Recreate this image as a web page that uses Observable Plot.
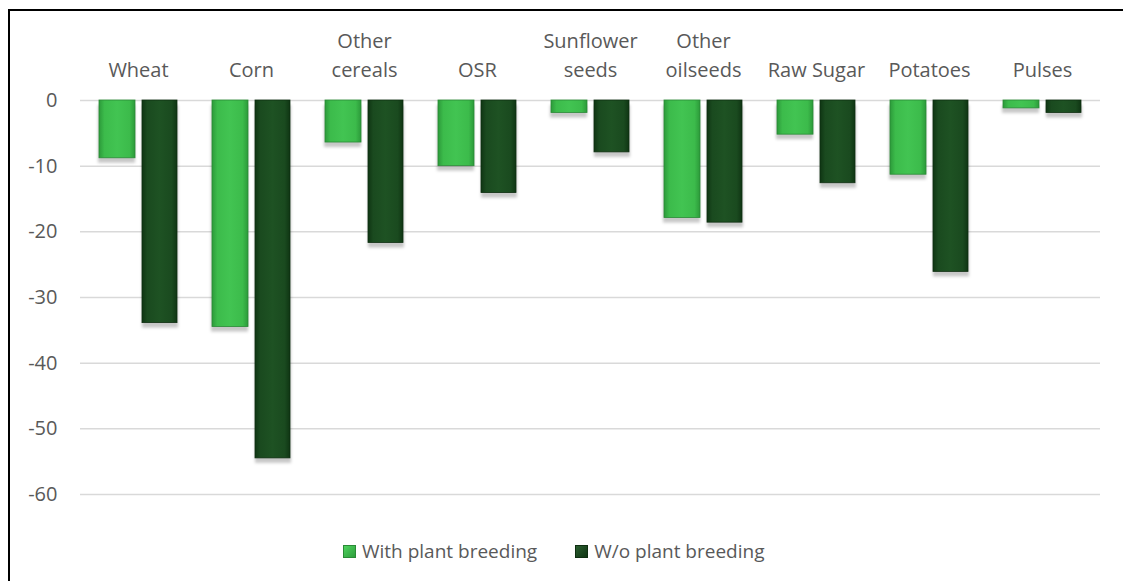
<!DOCTYPE html>
<html>
<head>
<meta charset="utf-8">
<script src="https://cdn.jsdelivr.net/npm/d3@7"></script>
<script src="https://cdn.jsdelivr.net/npm/@observablehq/plot@0.6"></script>
<style>
  html, body { margin: 0; padding: 0; background: #fff; width: 1123px; height: 581px; overflow: hidden; position: relative; }
  #frame { position: absolute; left: 8px; top: 9px; width: 1200px; height: 700px; border-left: 2px solid #000; border-top: 2px solid #000; box-sizing: border-box; }
  #chart { position: absolute; left: 0; top: 0; }
  #legend { position: absolute; top: 538px; left: 343px; display: flex; align-items: center; font-family: "Open Sans", sans-serif; font-size: 19px; color: #595959; white-space: nowrap; }
  .item { display: flex; align-items: center; margin-right: 38px; }
  .sw { width: 13px; height: 13px; margin-right: 6px; box-sizing: border-box; }
</style>
</head>
<body>
<div id="frame"></div>
<div id="chart"></div>
<div id="legend"></div>
<script>
const categories = ["Wheat", "Corn", "Other cereals", "OSR", "Sunflower seeds", "Other oilseeds", "Raw Sugar", "Potatoes", "Pulses"];
const categoryLabels = ["Wheat", "Corn", "Other\ncereals", "OSR", "Sunflower\nseeds", "Other\noilseeds", "Raw Sugar", "Potatoes", "Pulses"];
const seriesNames = ["With plant breeding", "W/o plant breeding"];
const withBreeding = [-8.8, -34.5, -6.4, -10.0, -1.9, -17.9, -5.2, -11.3, -1.2];
const withoutBreeding = [-33.9, -54.5, -21.7, -14.1, -7.9, -18.6, -12.6, -26.1, -1.9];
const yTicks = [0, -10, -20, -30, -40, -50, -60];

const dataWith = categories.map((c, i) => ({category: c, value: withBreeding[i]}));
const dataWithout = categories.map((c, i) => ({category: c, value: withoutBreeding[i]}));
const labelOf = new Map(categories.map((c, i) => [c, categoryLabels[i]]));

const hasAxisMarks = typeof Plot.axisX === "function";
const xAxisMarks = hasAxisMarks
  ? [Plot.axisX({anchor: "top", tickSize: 0, tickPadding: 24, lineHeight: 1.45, tickFormat: d => labelOf.get(d), label: null})]
  : [];

const plot = Plot.plot({
  width: 1123,
  height: 500,
  marginLeft: 80,
  marginRight: 23,
  marginTop: 100,
  marginBottom: 6,
  style: {fontFamily: "Open Sans, sans-serif", fontSize: "20px", color: "#595959", background: "transparent", overflow: "visible"},
  x: hasAxisMarks
    ? {domain: categories, label: null, paddingInner: 0.312, paddingOuter: 0.156}
    : {domain: categories, axis: "top", label: null, tickSize: 0, tickPadding: 24, paddingInner: 0.312, paddingOuter: 0.156, tickFormat: d => labelOf.get(d)},
  y: {domain: [-60, 0], ticks: yTicks, label: null, tickSize: 0, tickPadding: 23, tickFormat: d => `${d}`},
  marks: [
    Plot.ruleY(yTicks, {stroke: "#d9d9d9", strokeWidth: 1.5}),
    Plot.barY(dataWith, {x: "category", y: "value", dy: 5, insetRight: 42, insetLeft: -1, fill: "#000", fillOpacity: 0.22}),
    Plot.barY(dataWithout, {x: "category", y: "value", dy: 5, insetLeft: 43, insetRight: -1, fill: "#000", fillOpacity: 0.22}),
    Plot.barY(dataWith, {x: "category", y: "value", insetRight: 42, fill: "url(#gLight)", stroke: "#2a8a36", strokeWidth: 0.8}),
    Plot.barY(dataWithout, {x: "category", y: "value", insetLeft: 43, fill: "url(#gDark)", stroke: "#0e2e11", strokeWidth: 0.8}),
    ...xAxisMarks
  ]
});

const ns = "http://www.w3.org/2000/svg";
const defs = document.createElementNS(ns, "defs");
defs.innerHTML = `
  <linearGradient id="gLight" x1="0" x2="1" y1="0" y2="0">
    <stop offset="0" stop-color="#2c9a3a"/>
    <stop offset="0.15" stop-color="#3cbb4b"/>
    <stop offset="0.5" stop-color="#42c452"/>
    <stop offset="0.85" stop-color="#3cbb4b"/>
    <stop offset="1" stop-color="#2c9a3a"/>
  </linearGradient>
  <linearGradient id="gDark" x1="0" x2="1" y1="0" y2="0">
    <stop offset="0" stop-color="#0f3513"/>
    <stop offset="0.15" stop-color="#1a4a1f"/>
    <stop offset="0.5" stop-color="#1e5223"/>
    <stop offset="0.85" stop-color="#1a4a1f"/>
    <stop offset="1" stop-color="#0f3513"/>
  </linearGradient>
  <filter id="blur" x="-20%" y="-20%" width="140%" height="140%"><feGaussianBlur stdDeviation="1.8"/></filter>`;
plot.insertBefore(defs, plot.firstChild);
const barGroups = plot.querySelectorAll('g[aria-label="bar"]');
if (barGroups.length >= 2) {
  barGroups[0].setAttribute("filter", "url(#blur)");
  barGroups[1].setAttribute("filter", "url(#blur)");
}
document.getElementById("chart").appendChild(plot);

const legend = document.getElementById("legend");
const swatchStyles = [
  "background: linear-gradient(135deg, #4fd35e, #2e9e3c); border: 1px solid #2a8a36;",
  "background: linear-gradient(135deg, #2a5e2f, #103514); border: 1px solid #0e2e11;"
];
seriesNames.forEach((name, i) => {
  const item = document.createElement("div");
  item.className = "item";
  const sw = document.createElement("div");
  sw.className = "sw";
  sw.style.cssText = swatchStyles[i];
  const t = document.createElement("span");
  t.textContent = name;
  item.appendChild(sw);
  item.appendChild(t);
  legend.appendChild(item);
});
</script>
</body>
</html>
